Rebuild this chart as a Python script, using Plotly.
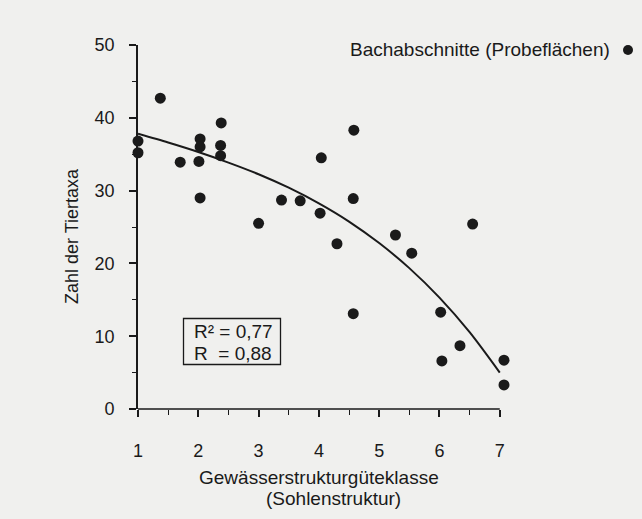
import plotly.graph_objects as go

# Sampled stream sections: structure quality class vs. number of animal taxa
class_x = [1.0, 1.0, 1.37, 1.70, 2.03, 2.03, 2.01, 2.03, 2.38, 2.37, 2.37,
           3.0, 3.38, 3.69, 4.02, 4.04, 4.58, 4.57, 4.30, 4.57,
           5.27, 5.54, 6.55, 6.02, 6.04, 6.34, 7.07, 7.07]
taxa_y = [36.8, 35.2, 42.7, 33.9, 37.1, 36.0, 34.0, 29.0, 39.3, 36.2, 34.8,
          25.5, 28.7, 28.6, 26.9, 34.5, 38.3, 28.9, 22.7, 13.1,
          23.9, 21.4, 25.4, 13.3, 6.6, 8.7, 6.7, 3.3]

# Regression curve
fit_x = [1.0, 1.5, 2.0, 2.5, 3.0, 3.5, 4.0, 4.5, 5.0, 5.5, 6.0, 6.5, 7.0]
fit_y = [37.8, 36.6, 35.3, 33.85, 32.25, 30.4, 28.25, 25.75, 22.8, 19.35, 15.3, 10.55, 5.0]

x_ticks = [1, 2, 3, 4, 5, 6, 7]
y_ticks = [0, 10, 20, 30, 40, 50]
x_axis_span = [1, 7]

FONT = "Liberation Sans, Arial, Helvetica, sans-serif"
INK = "#1a1a1a"
PAPER = "#f0f0ee"

fig = go.Figure()

fig.add_trace(go.Scatter(
    x=fit_x, y=fit_y, mode="lines",
    line=dict(color=INK, width=2, shape="spline", smoothing=0.8),
    hoverinfo="skip", showlegend=False,
))

fig.add_trace(go.Scatter(
    x=class_x, y=taxa_y, mode="markers",
    marker=dict(color=INK, size=11, line=dict(width=0)),
    cliponaxis=False, showlegend=False,
    name="Bachabschnitte (Probeflächen)",
))

tick_common = dict(
    showgrid=False, zeroline=False,
    ticks="outside", ticklen=7, tickwidth=1.6, tickcolor=INK,
    tickfont=dict(family=FONT, size=18, color=INK),
)

# x range runs a little past class 7 so the outermost samples stay visible;
# the axis line itself is drawn from class 1 to class 7 as a shape below
fig.update_xaxes(
    range=[1, 7.12], tickvals=x_ticks, showline=False,
    minor=dict(tickvals=[1.5, 2.5, 3.5, 4.5, 5.5, 6.5], ticks="outside",
               ticklen=5, tickwidth=1.4, tickcolor=INK),
    ticklabelstandoff=18,
    **tick_common,
)
fig.update_yaxes(
    range=[0, 50], tickvals=y_ticks, showline=True,
    linecolor=INK, linewidth=1.6,
    minor=dict(dtick=5, tick0=0, ticks="outside", ticklen=4,
               tickwidth=1.4, tickcolor=INK),
    ticklabelstandoff=11,
    **tick_common,
)

W, H = 642, 519
L, R, T, B = 138, 135, 45, 110
pw, ph = W - L - R, H - T - B


def px(x):
    return (x - L) / pw


def py(y):
    return (H - B - y) / ph


TXT = dict(family=FONT, size=19, color=INK)

annotations = [
    # legend text
    dict(text="Bachabschnitte (Probeflächen)", x=px(612), y=py(50),
         xref="paper", yref="paper", xanchor="right", yanchor="middle",
         showarrow=False, font=TXT),
    # y axis title
    dict(text="Zahl der Tiertaxa", x=px(72), y=py(236), textangle=-90,
         xref="paper", yref="paper", xanchor="center", yanchor="middle",
         showarrow=False, font=dict(family=FONT, size=18, color=INK)),
    # x axis title, two lines
    dict(text="Gewässerstrukturgüteklasse", x=px(318.5), y=py(477),
         xref="paper", yref="paper", xanchor="center", yanchor="middle",
         showarrow=False, font=TXT),
    dict(text="(Sohlenstruktur)", x=px(333), y=py(498),
         xref="paper", yref="paper", xanchor="center", yanchor="middle",
         showarrow=False, font=TXT),
    # goodness of fit
    dict(text="R² = 0,77", x=px(192), y=py(331),
         xref="paper", yref="paper", xanchor="left", yanchor="middle",
         showarrow=False, font=TXT),
    dict(text="R\u00a0\u00a0= 0,88", x=px(192), y=py(353.5),
         xref="paper", yref="paper", xanchor="left", yanchor="middle",
         showarrow=False, font=TXT),
]

shapes = [
    # x axis line from the first to the last class
    dict(type="line", xref="x", yref="paper",
         x0=x_axis_span[0], x1=x_axis_span[1], y0=0, y1=0,
         line=dict(color=INK, width=1.6)),
    # frame around the fit statistics
    dict(type="rect", xref="paper", yref="paper",
         x0=px(183.5), x1=px(280.5), y0=py(364.5), y1=py(318.5),
         line=dict(color=INK, width=1.3)),
    # legend marker
    dict(type="circle", xref="paper", yref="paper",
         x0=px(623), x1=px(633), y0=py(55), y1=py(45),
         fillcolor=INK, line=dict(width=0)),
]

fig.update_layout(
    width=W, height=H,
    margin=dict(l=L, r=R, t=T, b=B),
    paper_bgcolor=PAPER, plot_bgcolor=PAPER,
    annotations=annotations, shapes=shapes,
    showlegend=False,
)

fig.write_html("out.html")
